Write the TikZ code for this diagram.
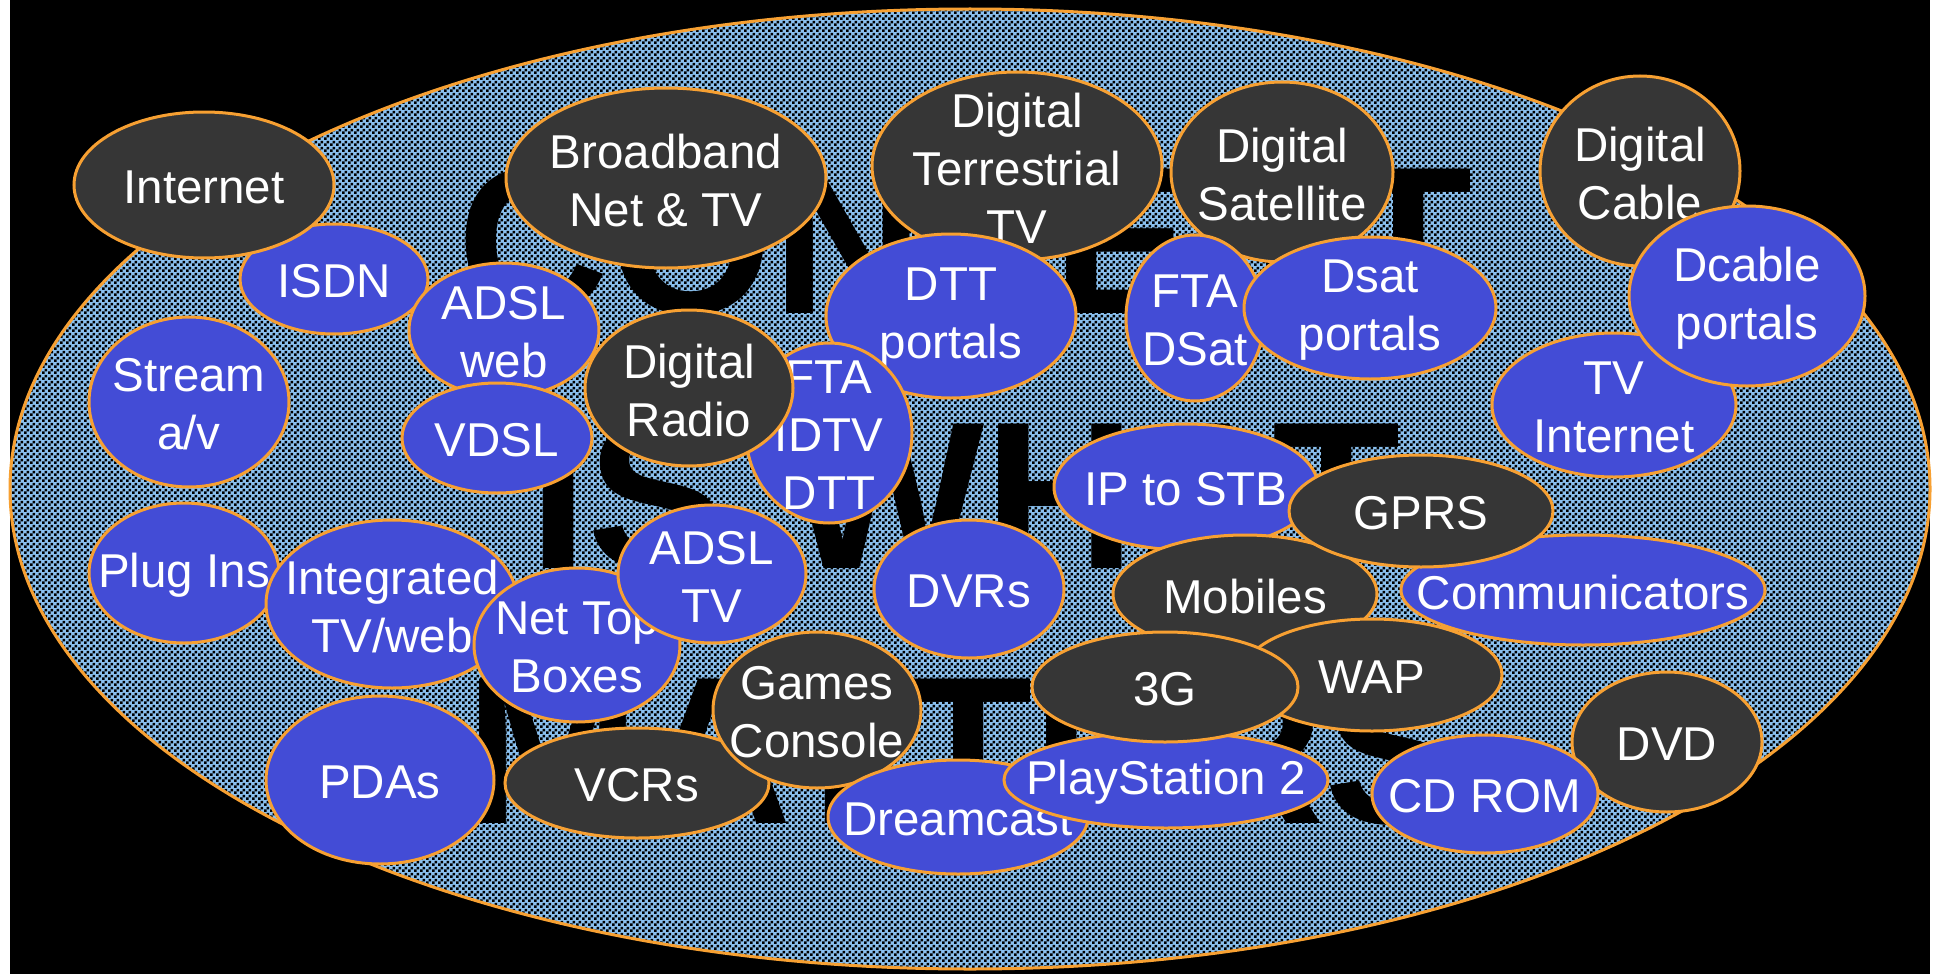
\documentclass[tikz,border=0pt]{standalone}
\usepackage{fontspec}
\setmainfont{Liberation Sans}
\usepackage{tikz}
\usetikzlibrary{shapes,patterns.meta}
\definecolor{blobblue}{RGB}{67,76,214}
\definecolor{blobgrey}{RGB}{54,54,54}
\definecolor{rimorange}{RGB}{247,160,50}
\definecolor{checkblue}{RGB}{138,192,238}
\tikzdeclarepattern{
  name=checker,
  type=uncolored,
  bottom left={(0pt,0pt)},
  top right={(6pt,6pt)},
  tile size={(6pt,6pt)},
  code={
    \fill (0pt,0pt) rectangle (3pt,3pt);
    \fill (3pt,3pt) rectangle (6pt,6pt);
  }
}
\tikzset{
  blob/.style={ellipse, draw=rimorange, line width=3pt, inner sep=0pt},
  blue blob/.style={blob, fill=blobblue},
  grey blob/.style={blob, fill=blobgrey},
  lbl/.style={text=white, align=center, inner sep=0pt, yshift=-2.5pt,
    font=\fontsize{47.5}{58}\selectfont},
  bigword/.style={inner sep=0pt, anchor=base, text=black,
    font=\fontsize{210}{255}\selectfont\bfseries},
}

\begin{document}
\begin{tikzpicture}[x=1pt,y=-1pt]
        \useasboundingbox (0,0) rectangle (1939,974);
        % backdrop
        \fill[white] (0,0) rectangle (1939,974);
        \fill[black] (10,0) rectangle (1930,974);
        \fill[checkblue] (970,489) ellipse [x radius=960, y radius=480];
        \fill[pattern=checker, pattern color=black] (970,489) ellipse [x radius=960, y radius=480];
        % words behind
        \node[bigword] (content) at (965,313) {CONTENT};
        \node[bigword] (iswhat) at (965,568) {IS WHAT};
        \node[bigword] (matters) at (965,823) {MATTERS};
        \draw[rimorange, line width=3pt] (970,489) ellipse [x radius=960, y radius=480];
        % top row
        \node[blue blob, minimum width=188, minimum height=110, label={[lbl]center:ISDN}] (isdn) at (334,279) {};
        \node[grey blob, minimum width=260, minimum height=146, label={[lbl]center:Internet}] (internet) at (204,185) {};
        \node[blue blob, minimum width=190, minimum height=134, label={[lbl]center:{ADSL\\web}}] (adslweb) at (504,330) {};
        \node[blue blob, minimum width=190, minimum height=110, label={[lbl]center:VDSL}] (vdsl) at (497,438) {};
        \node[blue blob, minimum width=200, minimum height=170, label={[lbl]center:{Stream\\a/v}}] (stream) at (189,402) {};
        \node[grey blob, minimum width=320, minimum height=180, label={[lbl]center:{Broadband\\Net \& TV}}] (broadband) at (666,178) {};
        \node[grey blob, minimum width=290, minimum height=188, label={[lbl]center:{Digital\\Terrestrial\\TV}}] (digterr) at (1017,166) {};
        \node[blue blob, minimum width=250, minimum height=164, label={[lbl]center:{DTT\\portals}}] (dttportals) at (951,316) {};
        \node[blue blob, minimum width=166, minimum height=180, label={[lbl]center:{FTA\\IDTV\\DTT}}] (ftaidtv) at (829,433) {};
        \node[grey blob, minimum width=208, minimum height=156, label={[lbl]center:{Digital\\Radio}}] (digradio) at (689,388) {};
        \node[grey blob, minimum width=222, minimum height=180, label={[lbl]center:{Digital\\Satellite}}] (digsat) at (1282,172) {};
        \node[blue blob, minimum width=138, minimum height=166, label={[lbl]center:{FTA\\DSat}}] (ftadsat) at (1195,318) {};
        \node[blue blob, minimum width=252, minimum height=142, label={[lbl]center:{Dsat\\portals}}] (dsatportals) at (1370,308) {};
        \node[grey blob, minimum width=200, minimum height=190, label={[lbl]center:{Digital\\Cable}}] (digcable) at (1640,171) {};
        \node[blue blob, minimum width=244, minimum height=144, label={[lbl]center:{TV\\Internet}}] (tvinternet) at (1614,405) {};
        \node[blue blob, minimum width=236, minimum height=180, label={[lbl]center:{Dcable\\portals}}] (dcableportals) at (1747,296) {};
        % middle
        \node[blue blob, minimum width=264, minimum height=126, label={[lbl]center:IP to STB}] (iptostb) at (1186,487) {};
        \node[blue blob, minimum width=364, minimum height=110, label={[lbl]center:Communicators}] (communicators) at (1583,590) {};
        \node[grey blob, minimum width=264, minimum height=118, label={[lbl]center:Mobiles}] (mobiles) at (1245,594) {};
        \node[grey blob, minimum width=264, minimum height=112, label={[lbl]center:GPRS}] (gprs) at (1421,511) {};
        \node[grey blob, minimum width=260, minimum height=112, label={[lbl]center:WAP}] (wap) at (1372,675) {};
        \node[blue blob, minimum width=190, minimum height=138, label={[lbl]center:DVRs}] (dvrs) at (969,589) {};
        \node[blue blob, minimum width=190, minimum height=140, label={[lbl]center:Plug Ins}] (plugins) at (184,573) {};
        \node[blue blob, minimum width=252, minimum height=168, label={[lbl]center:{Integrated\\TV/web}}] (integrated) at (392,604) {};
        \node[blue blob, minimum width=206, minimum height=154, label={[lbl]center:{Net Top\\Boxes}}] (nettop) at (577,645) {};
        \node[blue blob, minimum width=188, minimum height=138, label={[lbl]center:{ADSL\\TV}}] (adsltv) at (712,574) {};
        % bottom row
        \node[grey blob, minimum width=264, minimum height=110, label={[lbl]center:VCRs}] (vcrs) at (637,783) {};
        \node[grey blob, minimum width=208, minimum height=156, label={[lbl]center:{Games\\Console}}] (games) at (817,710) {};
        \node[blue blob, minimum width=260, minimum height=114, label={[lbl]center:Dreamcast}] (dreamcast) at (958,817) {};
        \node[blue blob, minimum width=324, minimum height=96, label={[lbl]center:PlayStation 2}] (ps2) at (1166,780) {};
        \node[grey blob, minimum width=266, minimum height=110, label={[lbl]center:3G}] (threeg) at (1165,687) {};
        \node[blue blob, minimum width=228, minimum height=168, label={[lbl]center:PDAs}] (pdas) at (380,780) {};
        \node[grey blob, minimum width=190, minimum height=140, label={[lbl]center:DVD}] (dvd) at (1667,742) {};
        \node[blue blob, minimum width=226, minimum height=118, label={[lbl]center:CD ROM}] (cdrom) at (1485,794) {};
\end{tikzpicture}
\end{document}
